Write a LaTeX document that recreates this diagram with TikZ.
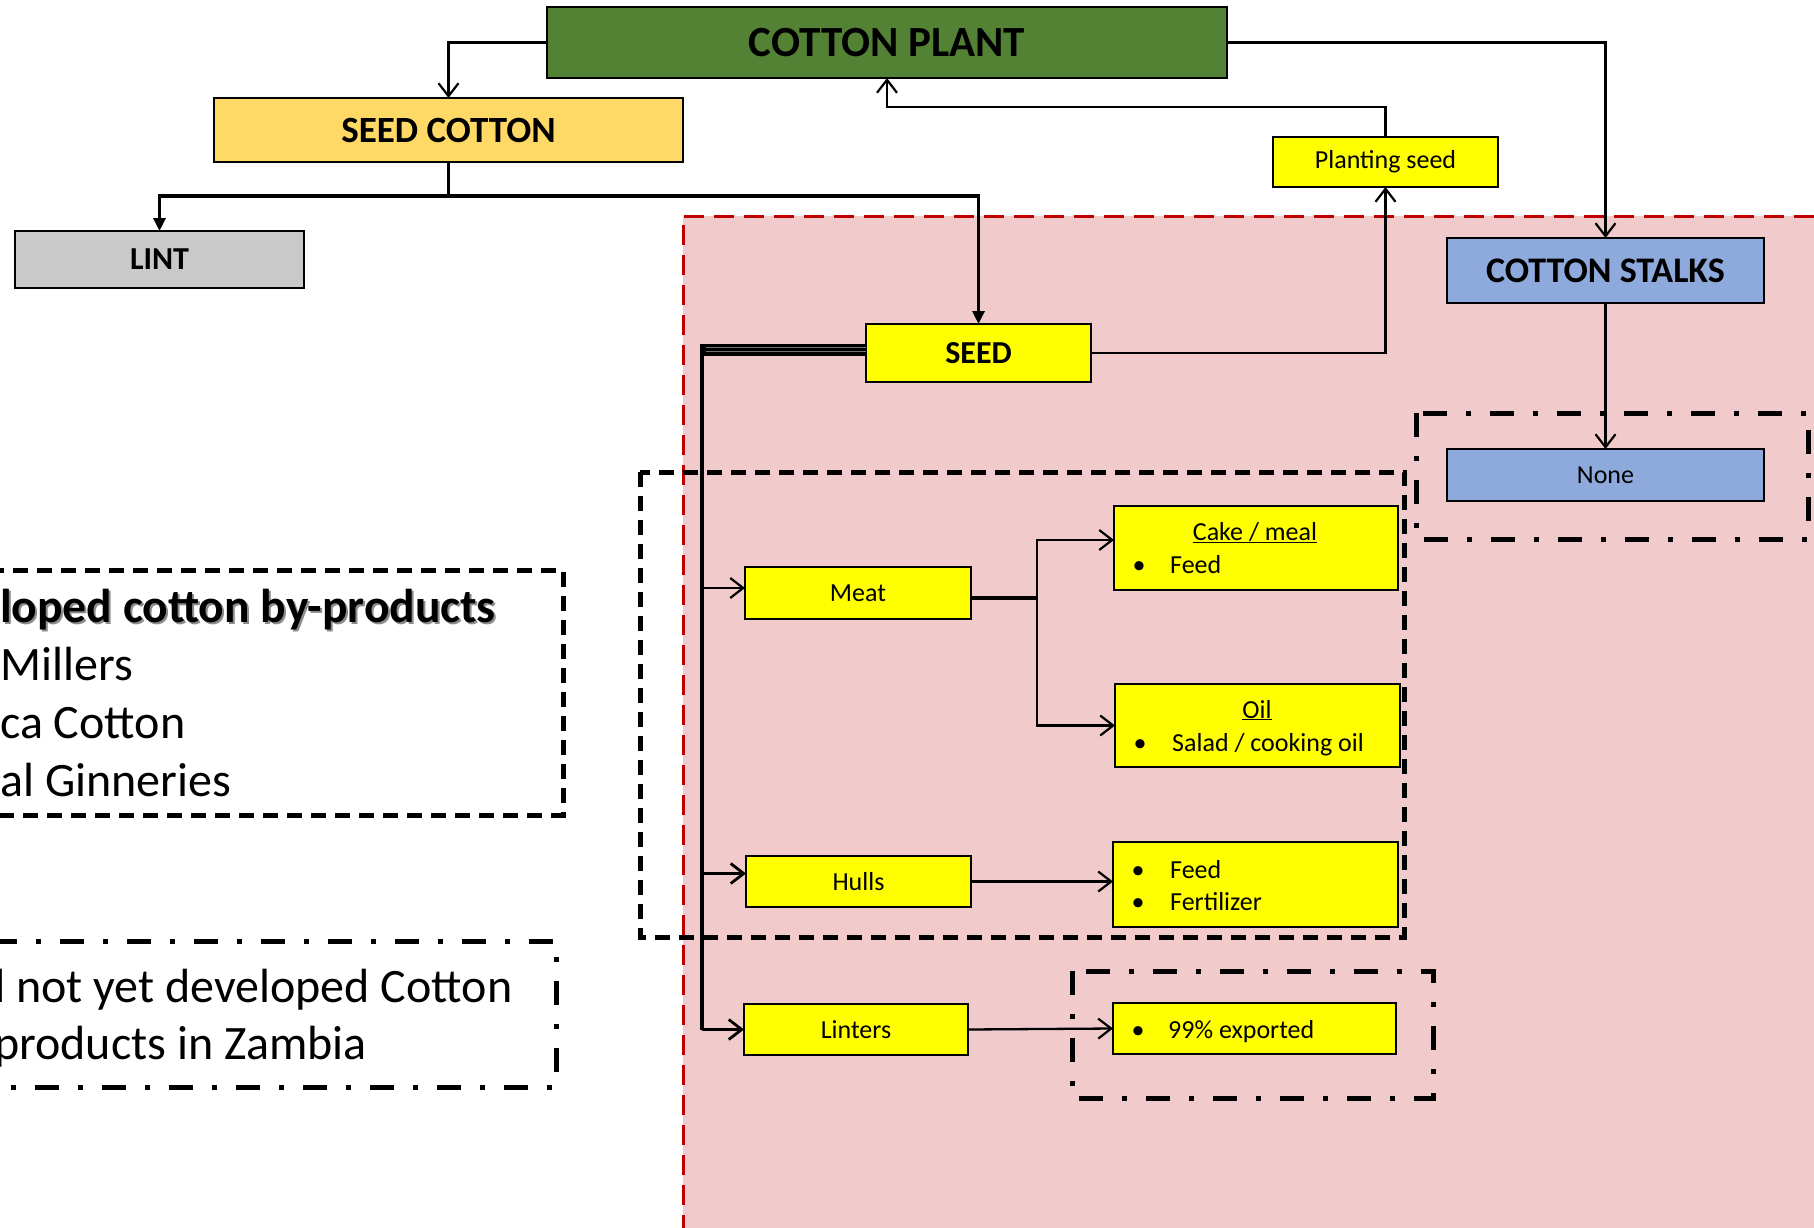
\documentclass[tikz,border=0pt]{standalone}
\usepackage{fontspec}
\setmainfont{Carlito}
\usetikzlibrary{arrows.meta}
\definecolor{plantgreen}{HTML}{548235}
\definecolor{seedgold}{HTML}{FFD966}
\definecolor{lintgray}{HTML}{C9C9C9}
\definecolor{stalkblue}{HTML}{8EA9DB}
\definecolor{pinkbg}{HTML}{F1CBCC}
\definecolor{redline}{HTML}{C00000}
\definecolor{boxyellow}{HTML}{FFFF00}
\begin{document}
\begin{tikzpicture}[x=1pt,y=-1pt,
  bx/.style={draw=black, line width=2pt, inner sep=0pt, outer sep=0pt, anchor=north west, text=black},
  ybox/.style={bx, fill=boxyellow},
  hugefont/.style={font=\fontsize{43}{50}\selectfont\bfseries},
  bigfont/.style={font=\fontsize{37}{44}\selectfont\bfseries},
  midfont/.style={font=\fontsize{32}{38}\selectfont\bfseries},
  smallfont/.style={font=\fontsize{26}{31}\selectfont},
  legfont/.style={font=\fontsize{48}{56}\selectfont, inner sep=0pt},
  legbold/.style={font=\fontsize{47.5}{56}\selectfont\bfseries, inner sep=0pt},
  intext/.style={smallfont, inner sep=0pt, anchor=base west},
  conn/.style={draw=black, line width=2.3pt},
  openarr/.style={conn, -{Straight Barb[length=13pt,width=20pt,line width=2.2pt]}},
  boldarr/.style={draw=black, line width=3.2pt, -{Straight Barb[length=13pt,width=20pt,line width=2.8pt]}},
  fillarr/.style={draw=black, line width=3.2pt, -{Triangle[length=13pt,width=12pt]}},
  blackdash/.style={draw=black, line width=5pt, dash pattern=on 15pt off 9pt},
  dashdot/.style={draw=black, line width=5pt, dash pattern=on 24pt off 19pt on 5pt off 19pt},
  reddash/.style={draw=redline, line width=3pt, dash pattern=on 20pt off 10pt}
]
\useasboundingbox (0,0) rectangle (1814,1228);
\fill[white] (0,0) rectangle (1814,1228);

% pink region
\fill[pinkbg] (683,216) rectangle (1814,1228);
\draw[reddash] (1814,216) -- (683,216) -- (683,1228);

% grouping boxes
\draw[blackdash] (640,472) rectangle (1404,937);
\draw[dashdot] (1416,413) rectangle (1808,539);
\draw[dashdot] (1072,971) rectangle (1433,1098);
\draw[blackdash] (-20,570) rectangle (563,815);
\draw[dashdot] (-20,941) rectangle (556,1087);

% legend texts
\node[legbold, text=black!45, anchor=base west] at (2,624) {loped cotton by-products};
\node[legbold, anchor=base west] (lt1) at (0,622) {loped cotton by-products};
\node[legfont, anchor=base west] (lt2) at (0,680) {Millers};
\node[legfont, anchor=base west] (lt3) at (0,738) {ca Cotton};
\node[legfont, anchor=base west] (lt4) at (0,796) {al Ginneries};
\node[legfont, anchor=base west] (lt5) at (-20,1002) {d not yet developed Cotton};
\node[legfont, anchor=base west] (lt6) at (-6,1059) {products in Zambia};

% main boxes
\node[bx, fill=plantgreen, minimum width=680pt, minimum height=71pt, hugefont] (plant) at (547,7) {COTTON PLANT};
\node[bx, fill=seedgold, minimum width=469pt, minimum height=64pt, bigfont] (seedcotton) at (214,98) {SEED COTTON};
\node[bx, fill=lintgray, minimum width=289pt, minimum height=57pt, midfont] (lint) at (15,231) {LINT};
\node[ybox, minimum width=225pt, minimum height=50pt, smallfont] (planting) at (1273,137) {Planting seed};
\node[bx, fill=stalkblue, minimum width=317pt, minimum height=65pt, font=\fontsize{36}{42}\selectfont\bfseries] (stalks) at (1447,238) {COTTON STALKS};
\node[ybox, minimum width=225pt, minimum height=58pt, midfont] (seed) at (866,324) {SEED};
\node[bx, fill=stalkblue, minimum width=317pt, minimum height=52pt, smallfont] (none) at (1447,449) {None};
\node[ybox, minimum width=226pt, minimum height=52pt, smallfont] (meat) at (745,567) {Meat};
\node[ybox, minimum width=284pt, minimum height=84pt] (cake) at (1114,506) {};
\node[ybox, minimum width=285pt, minimum height=83pt] (oil) at (1115,684) {};
\node[ybox, minimum width=225pt, minimum height=51pt, smallfont] (hulls) at (746,856) {Hulls};
\node[ybox, minimum width=285pt, minimum height=85pt] (hullsout) at (1113,842) {};
\node[ybox, minimum width=224pt, minimum height=51pt, smallfont] (linters) at (744,1004) {Linters};
\node[ybox, minimum width=283pt, minimum height=51pt] (export) at (1113,1003) {};

% texts inside product boxes
\node[smallfont, inner sep=0pt, anchor=base] (cakeT) at (1255,540) {\underline{Cake / meal}};
\node[smallfont, inner sep=0pt, anchor=base] (cakeB) at (1139,573) {\textbullet};
\node[intext] (cakeI) at (1170,573) {Feed};
\node[smallfont, inner sep=0pt, anchor=base] (oilT) at (1257,718) {\underline{Oil}};
\node[smallfont, inner sep=0pt, anchor=base] (oilB) at (1140,751) {\textbullet};
\node[intext] (oilI) at (1172,751) {Salad / cooking oil};
\node[smallfont, inner sep=0pt, anchor=base] (hoB1) at (1138,878) {\textbullet};
\node[intext] (hoI1) at (1170,878) {Feed};
\node[smallfont, inner sep=0pt, anchor=base] (hoB2) at (1138,910) {\textbullet};
\node[intext] (hoI2) at (1170,910) {Fertilizer};
\node[smallfont, inner sep=0pt, anchor=base] (exB) at (1138,1038) {\textbullet};
\node[intext] (exI) at (1168,1038) {99\% exported};

% connectors
\draw[openarr] (plant.west) -| (seedcotton.north);
\draw[openarr] (plant.east) -| (stalks.north);
\draw[openarr] (planting.north) -- ++(0,-30) -| (plant.south);
\draw[openarr] (seed.east) -| (planting.south);
\draw[openarr] (stalks.south) -- (none.north);

\draw[draw=black, line width=3.2pt] (seedcotton.south) -- ++(0,34) coordinate (sj);
\draw[fillarr] (sj) -| (lint.north);
\draw[fillarr] (sj) -| (seed.north);

% seed to spine
\coordinate (sp) at (702,344);
\draw[draw=black, line width=12pt] ([yshift=3pt]seed.west) -- ++(-166,0);
\draw[draw=black!55, line width=0.8pt] ([yshift=6pt]seed.west) -- ++(-160,0);
\draw[draw=black!55, line width=0.8pt] ([yshift=2pt]seed.west) -- ++(-160,0);
\draw[draw=black, line width=4pt] (sp) -- (sp |- linters.west);
\coordinate (min) at ([yshift=5pt]meat.west);
\draw[openarr] (min -| sp) -- (min);
\coordinate (hin) at ([yshift=8pt]hulls.west);
\draw[boldarr] (hin -| sp) -- (hin);
\draw[boldarr] (sp |- linters.west) -- (linters.west);

% meat split
\coordinate (mout) at ([yshift=-5pt]meat.east);
\draw[draw=black, line width=3.8pt] (mout) -- ++(66,0) coordinate (msplit);
\coordinate (cin) at ([yshift=8pt]cake.west);
\draw[openarr] (msplit) |- (cin);
\draw[openarr] (msplit) |- (oil.west);

\draw[openarr] (hulls.east) -- (hulls.east -| hullsout.west);
\draw[openarr] (linters.east) -- (export.west);
\end{tikzpicture}
\end{document}
